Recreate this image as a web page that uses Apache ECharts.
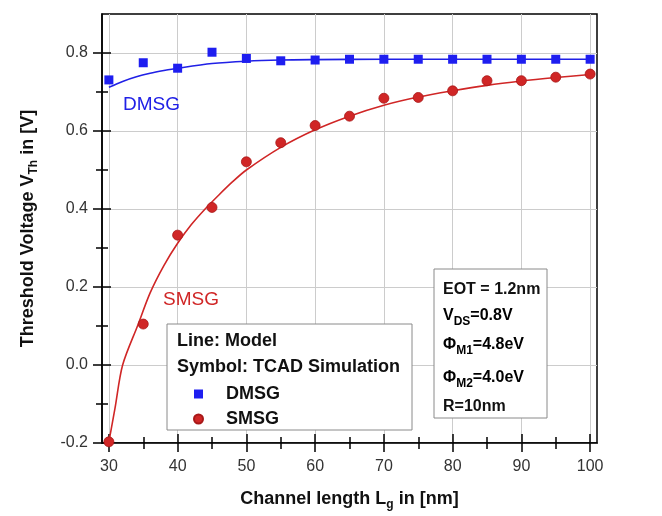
<!DOCTYPE html>
<html>
<head>
<meta charset="utf-8">
<script src="https://cdn.jsdelivr.net/npm/echarts@6/dist/echarts.min.js"></script>
<style>
    html, body { margin: 0; padding: 0; background: #fff; }
    #chart { width: 662px; height: 516px; }
</style>
</head>
<body>
<div id="chart"></div>
<script>
// TCAD points (channel length in nm, threshold voltage in V)
const lengths = [30, 35, 40, 45, 50, 55, 60, 65, 70, 75, 80, 85, 90, 95, 100];
const dmsgTcad = [0.731, 0.775, 0.761, 0.802, 0.786, 0.780, 0.782, 0.784, 0.784, 0.784, 0.784, 0.784, 0.784, 0.784, 0.784];
const smsgTcad = [-0.197, 0.105, 0.333, 0.404, 0.521, 0.570, 0.614, 0.638, 0.684, 0.686, 0.703, 0.729, 0.729, 0.738, 0.746];

// model curves
const dmsgModelL = [30, 32, 34, 36, 38, 40, 45, 50, 55, 60, 70, 80, 90, 100];
const dmsgModelV = [0.712, 0.727, 0.739, 0.748, 0.755, 0.761, 0.773, 0.779, 0.782, 0.783, 0.784, 0.784, 0.784, 0.784];
const smsgModelL = [30, 30.9, 32, 34.25, 36, 38, 40, 42, 44, 46, 48, 50, 55, 60, 65, 70, 75, 80, 85, 90, 95, 100];
const smsgModelV = [-0.197, -0.11, 0.0, 0.104, 0.185, 0.255, 0.312, 0.36, 0.40, 0.436, 0.47, 0.50, 0.558, 0.603, 0.638, 0.666, 0.687, 0.703, 0.717, 0.728, 0.737, 0.745];

// ticks
const xMajor = [30, 40, 50, 60, 70, 80, 90, 100];
const xMinor = [35, 45, 55, 65, 75, 85, 95];
const yMajor = [-0.2, 0.0, 0.2, 0.4, 0.6, 0.8];
const yMinor = [-0.1, 0.1, 0.3, 0.5, 0.7];

const FONT = 'Liberation Sans, Arial, sans-serif';
const BLUE = '#2020e6';
const RED = '#d02626';

const zip = (xs, ys) => xs.map((x, i) => [x, ys[i]]);

const subRich = (size, subSize, pad) => ({
    n: {fontSize: size, fontWeight: 'bold', fontFamily: FONT, color: '#111'},
    s: {fontSize: subSize, fontWeight: 'bold', fontFamily: FONT, color: '#111', padding: [pad, 0, 0, 0]},
});

const tickAxis = (dim, vals, inside, len) => ({
    type: 'value',
    min: dim === 'x' ? 29 : -0.2,
    max: dim === 'x' ? 101 : 0.9,
    position: dim === 'x' ? 'bottom' : 'left',
    axisLine: {show: false, onZero: false},
    axisTick: {show: true, customValues: vals, inside, length: len, lineStyle: {color: '#000', width: 1.5}},
    axisLabel: {show: false},
    splitLine: {show: false},
});

const chart = echarts.init(document.getElementById('chart'));

const option = {
    animation: false,
    backgroundColor: '#fff',
    grid: {
        left: 102, right: 65, top: 14, bottom: 73,
        show: true, borderColor: '#000', borderWidth: 1.5,
        outerBoundsMode: 'none',
    },
    xAxis: [
        {
            type: 'value', min: 29, max: 101, position: 'bottom',
            name: '{n|Channel length L}{s|g}{n| in [nm]}',
            nameLocation: 'middle', nameGap: 44,
            nameTextStyle: {rich: subRich(18, 12, 12)},
            axisLine: {show: true, onZero: false, lineStyle: {color: '#000', width: 1.5}},
            axisTick: {show: true, customValues: xMajor, length: 9, lineStyle: {color: '#000', width: 1.5}},
            axisLabel: {customValues: xMajor, margin: 16, fontSize: 16, fontFamily: FONT, color: '#333'},
            splitLine: {show: true, lineStyle: {color: '#cccccc', width: 1}},
        },
        tickAxis('x', xMajor, true, 9),
        tickAxis('x', xMinor, false, 6),
        tickAxis('x', xMinor, true, 6),
    ],
    yAxis: [
        {
            type: 'value', min: -0.2, max: 0.9, position: 'left',
            name: '{n|Threshold Voltage V}{s|Th}{n| in [V]}',
            nameLocation: 'middle', nameGap: 62,
            nameTextStyle: {rich: subRich(18, 12, 12)},
            axisLine: {show: true, onZero: false, lineStyle: {color: '#000', width: 1.5}},
            axisTick: {show: true, customValues: yMajor, length: 9, lineStyle: {color: '#000', width: 1.5}},
            axisLabel: {
                customValues: yMajor, margin: 14, fontSize: 16, fontFamily: FONT, color: '#333',
                formatter: v => v.toFixed(1),
            },
            splitLine: {show: true, lineStyle: {color: '#cccccc', width: 1}},
        },
        tickAxis('y', yMajor, true, 9),
        tickAxis('y', yMinor, false, 6),
        tickAxis('y', yMinor, true, 6),
    ],
    legend: {
        selectedMode: false,
        orient: 'vertical',
        left: 193, top: 385, padding: 0,
        itemWidth: 9, itemHeight: 9, itemGap: 7,
        textStyle: {fontSize: 18, fontWeight: 'bold', fontFamily: FONT, color: '#111', lineHeight: 18, padding: [0, 0, 0, 18]},
        data: [
            {name: 'DMSG', icon: 'rect'},
            {name: 'SMSG', icon: 'circle'},
        ],
    },
    graphic: [
        // legend frame + header
        {type: 'rect', z: 3, shape: {x: 167, y: 324, width: 245, height: 106},
            style: {fill: '#fff', stroke: '#8a8a8a', lineWidth: 1}},
        {type: 'text', z: 5, x: 177, y: 341, style: {text: 'Line: Model', fontSize: 18, fontWeight: 'bold', fontFamily: FONT, fill: '#111', verticalAlign: 'middle'}},
        {type: 'text', z: 5, x: 177, y: 367, style: {text: 'Symbol: TCAD Simulation', fontSize: 18, fontWeight: 'bold', fontFamily: FONT, fill: '#111', verticalAlign: 'middle'}},
        // parameter box
        {type: 'rect', z: 3, shape: {x: 434, y: 269, width: 113, height: 149},
            style: {fill: '#fff', stroke: '#8a8a8a', lineWidth: 1}},
        {type: 'text', z: 5, x: 443, y: 290, style: {text: 'EOT = 1.2nm', fontSize: 16, fontWeight: 'bold', fontFamily: FONT, fill: '#111', verticalAlign: 'middle'}},
        {type: 'text', z: 5, x: 443, y: 316, style: {text: '{n|V}{s|DS}{n|=0.8V}', rich: subRich(16, 12, 11), verticalAlign: 'middle'}},
        {type: 'text', z: 5, x: 443, y: 345, style: {text: '{n|Φ}{s|M1}{n|=4.8eV}', rich: subRich(16, 12, 11), verticalAlign: 'middle'}},
        {type: 'text', z: 5, x: 443, y: 378, style: {text: '{n|Φ}{s|M2}{n|=4.0eV}', rich: subRich(16, 12, 11), verticalAlign: 'middle'}},
        {type: 'text', z: 5, x: 443, y: 407, style: {text: 'R=10nm', fontSize: 16, fontWeight: 'bold', fontFamily: FONT, fill: '#111', verticalAlign: 'middle'}},
        // curve labels
        {type: 'text', z: 5, x: 123, y: 105, style: {text: 'DMSG', fontSize: 19, fontFamily: FONT, fill: BLUE, verticalAlign: 'middle'}},
        {type: 'text', z: 5, x: 163, y: 300, style: {text: 'SMSG', fontSize: 19, fontFamily: FONT, fill: RED, verticalAlign: 'middle'}},
    ],
    series: [
        {
            name: 'DMSG model', type: 'line', data: zip(dmsgModelL, dmsgModelV),
            smooth: 0.3, showSymbol: false, z: 2,
            lineStyle: {color: BLUE, width: 1.6},
        },
        {
            name: 'SMSG model', type: 'line', data: zip(smsgModelL, smsgModelV),
            smooth: 0.3, showSymbol: false, z: 2,
            lineStyle: {color: RED, width: 1.6},
        },
        {
            name: 'DMSG', type: 'scatter', data: zip(lengths, dmsgTcad),
            symbol: 'rect', symbolSize: 9, z: 3,
            itemStyle: {color: '#1e1ef0', opacity: 1},
        },
        {
            name: 'SMSG', type: 'scatter', data: zip(lengths, smsgTcad),
            symbol: 'circle', symbolSize: 10, z: 3,
            itemStyle: {color: RED, borderColor: '#a81818', borderWidth: 0.8, opacity: 1},
        },
    ],
};

chart.setOption(option);
</script>
</body>
</html>
